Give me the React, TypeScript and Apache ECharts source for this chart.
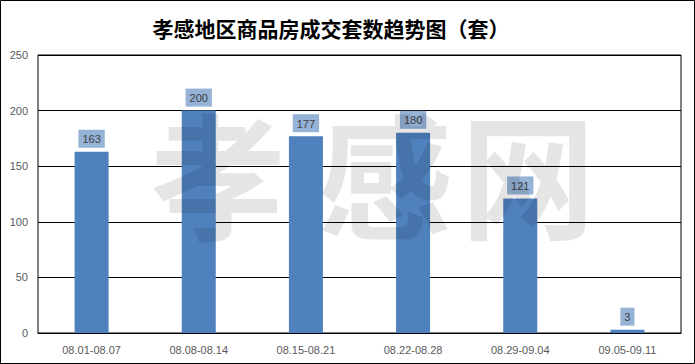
import React, { useEffect, useRef } from "react";
import * as echarts from "echarts";

const titleText = "孝感地区商品房成交套数趋势图（套）";
const weeks = ["08.01-08.07", "08.08-08.14", "08.15-08.21", "08.22-08.28", "08.29-09.04", "09.05-09.11"];
const deals = [163, 200, 177, 180, 121, 3];
const watermarkChars = ["孝", "感", "网"];

export default function App() {
  const ref = useRef<HTMLDivElement>(null);

  useEffect(() => {
    document.body.style.margin = "0";
    const chart = echarts.init(ref.current!, null, { renderer: "svg" });
    const wmX = [218, 385, 528];
    chart.setOption({
      animation: false,
      backgroundColor: "#ffffff",
      title: {
        text: titleText,
        left: 326,
        top: 12,
        textAlign: "center",
        textStyle: {
          fontFamily: "Noto Sans CJK SC",
          fontWeight: "bold",
          fontSize: 21,
          color: "#000000",
        },
      },
      grid: {
        left: 38,
        right: 14,
        top: 55,
        bottom: 31,
        show: true,
        borderColor: "#000000",
        borderWidth: 1,
        backgroundColor: "transparent",
      },
      xAxis: {
        type: "category",
        data: weeks,
        axisLine: { show: true, lineStyle: { color: "#000000", width: 1 } },
        axisTick: { show: false },
        axisLabel: {
          color: "#595959",
          fontSize: 11,
          fontFamily: "Liberation Sans",
          margin: 11,
        },
      },
      yAxis: {
        type: "value",
        min: 0,
        max: 250,
        interval: 50,
        axisLine: { show: false },
        axisTick: { show: false },
        splitLine: { lineStyle: { color: "#000000", width: 1 } },
        axisLabel: {
          color: "#595959",
          fontSize: 11,
          fontFamily: "Liberation Sans",
          margin: 10,
        },
      },
      series: [
        {
          type: "bar",
          data: deals,
          barWidth: 34,
          itemStyle: { color: "#4F81BD" },
          label: {
            show: true,
            position: "top",
            distance: 4,
            color: "#404040",
            fontSize: 11,
            fontFamily: "Liberation Sans",
            backgroundColor: "#95B3D7",
            padding: [4, 4, 3, 4],
          },
        },
      ],
      graphic: [
        {
          type: "rect",
          shape: { x: 0.5, y: 0.5, width: 694, height: 363 },
          style: { fill: "none", stroke: "#000000", lineWidth: 1 },
          silent: true,
          z: 200,
        },
        ...watermarkChars.map((ch, i) => ({
          type: "text",
          x: wmX[i],
          y: 170,
          silent: true,
          z: 100,
          style: {
            text: ch,
            fontSize: 135,
            fontWeight: "bold",
            fontFamily: "Noto Sans CJK SC",
            fill: "rgba(0,0,0,0.1)",
            textAlign: "center",
            textVerticalAlign: "middle",
          },
        })),
      ],
    });
    return () => chart.dispose();
  }, []);

  return <div ref={ref} style={{ width: 695, height: 364 }} />;
}
